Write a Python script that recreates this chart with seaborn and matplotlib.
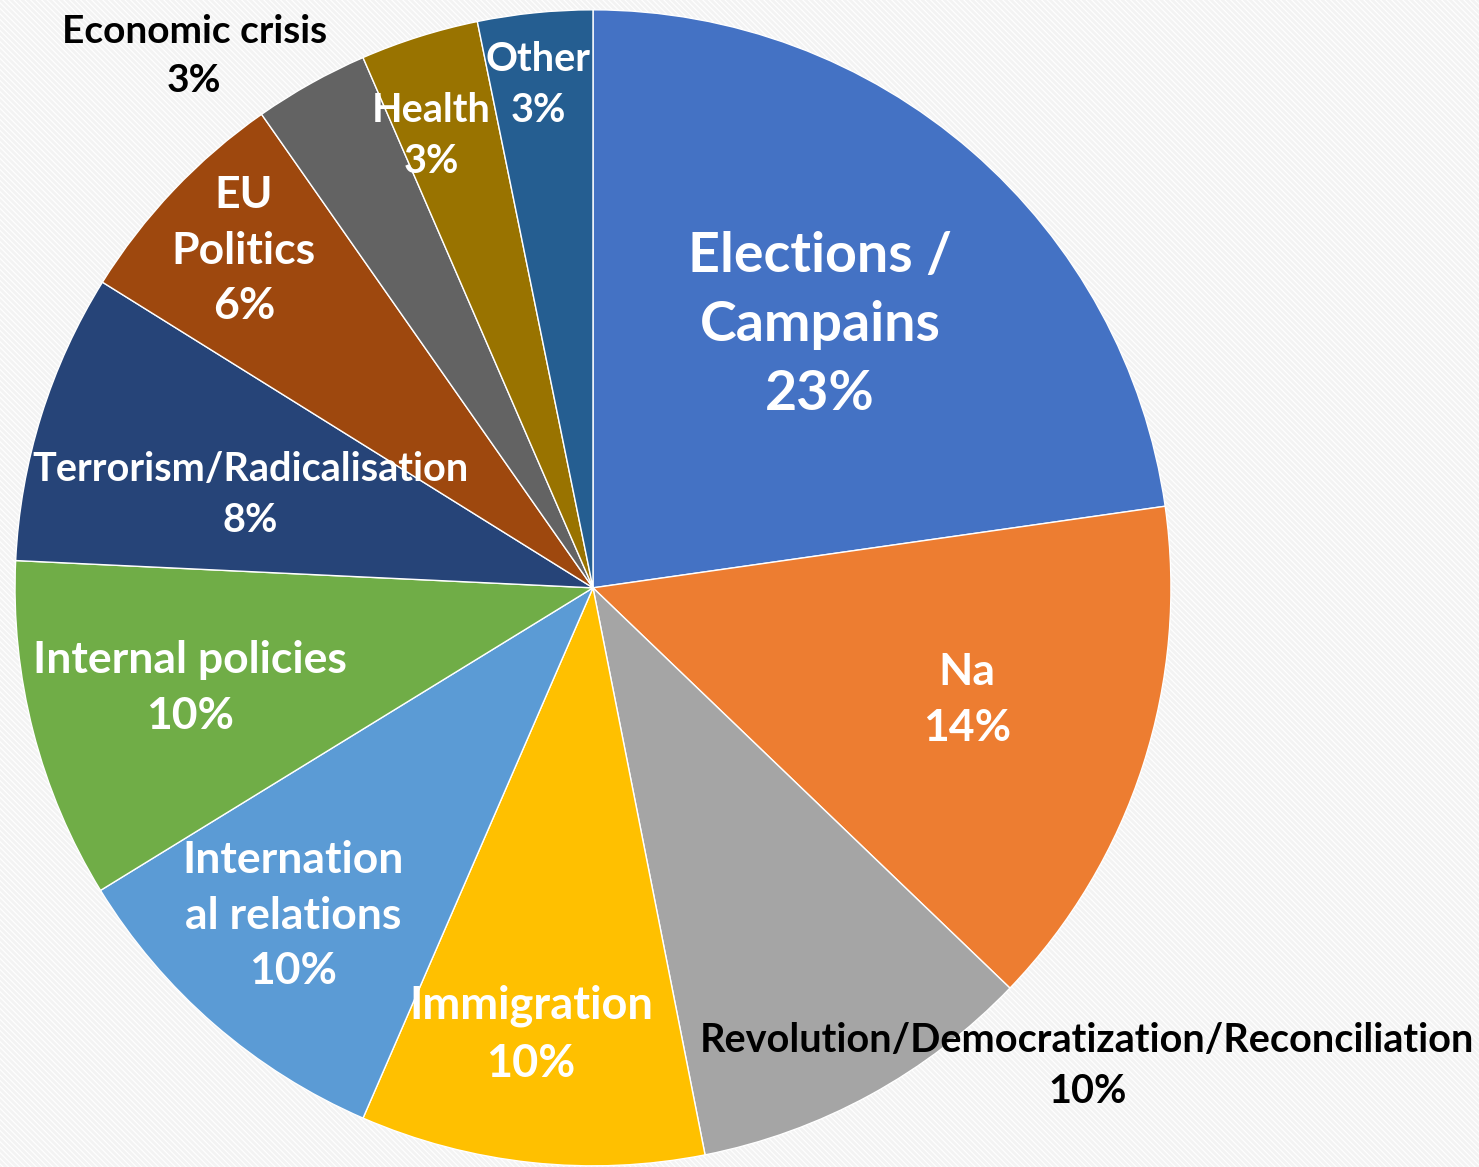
import matplotlib
matplotlib.use("Agg")
import matplotlib.pyplot as plt
import matplotlib.patches as mpatches
import seaborn as sns

sns.set_theme(style="white")
plt.rcParams['font.family'] = ['Lato', 'DejaVu Sans']

topics = ["Elections /\nCampains", "Na", "Revolution/Democratization/Reconciliation",
          "Immigration", "Internation\nal relations", "Internal policies",
          "Terrorism/Radicalisation", "EU\nPolitics", "Economic crisis", "Health", "Other"]
shares = [22.7, 14.4, 9.7, 9.6, 9.7, 9.5, 8.1, 6.4, 3.2, 3.3, 3.2]
pct_labels = ["23%", "14%", "10%", "10%", "10%", "10%", "8%", "6%", "3%", "3%", "3%"]
colors = ["#4472C4", "#ED7D31", "#A5A5A5", "#FFC000", "#5B9BD5", "#70AD47",
          "#264478", "#9E480E", "#636363", "#997300", "#255E91"]

# label placement (radius units, pie centre at 0,0) and styles
label_pos = [(0.393, 0.455), (0.647, -0.194), (0.855, -0.827), (-0.107, -0.773),
             (-0.519, -0.567), (-0.697, -0.173), (-0.593, 0.161), (-0.604, 0.583),
             (-0.690, 0.920), (-0.280, 0.782), (-0.095, 0.870)]
label_size = [40, 32, 28.5, 32.5, 32, 32, 28.5, 32, 28, 28.5, 28.5]
label_color = ["white", "white", "black", "white", "white", "white", "white",
               "white", "black", "white", "white"]

fig = plt.figure(figsize=(14.79, 11.67), dpi=100)
fig.patch.set_facecolor("white")
plt.rcParams['hatch.linewidth'] = 2.0
bg = fig.add_axes([0, 0, 1, 1])
bg.set_axis_off()
bg.add_patch(mpatches.Rectangle((0, 0), 1, 1, transform=bg.transAxes,
                                facecolor="white", edgecolor="#f3f3f3",
                                hatch="\\\\\\\\\\\\", linewidth=0))

ax = fig.add_axes([0, 0, 1, 1])
ax.patch.set_alpha(0)
ax.pie(shares, colors=colors, startangle=90, counterclock=False, radius=1,
       wedgeprops=dict(edgecolor="white", linewidth=1))
ax.set_xlim(-1.026, 1.533)
ax.set_ylim(-1.002, 1.017)
ax.set_aspect("auto")
ax.set_axis_off()

for name, pct, (x, y), fs, c in zip(topics, pct_labels, label_pos, label_size, label_color):
    ax.text(x, y, name + "\n" + pct, ha="center", va="center", fontsize=fs,
            fontweight="bold", color=c, linespacing=1.47)

fig.savefig("out.png", dpi=100)
